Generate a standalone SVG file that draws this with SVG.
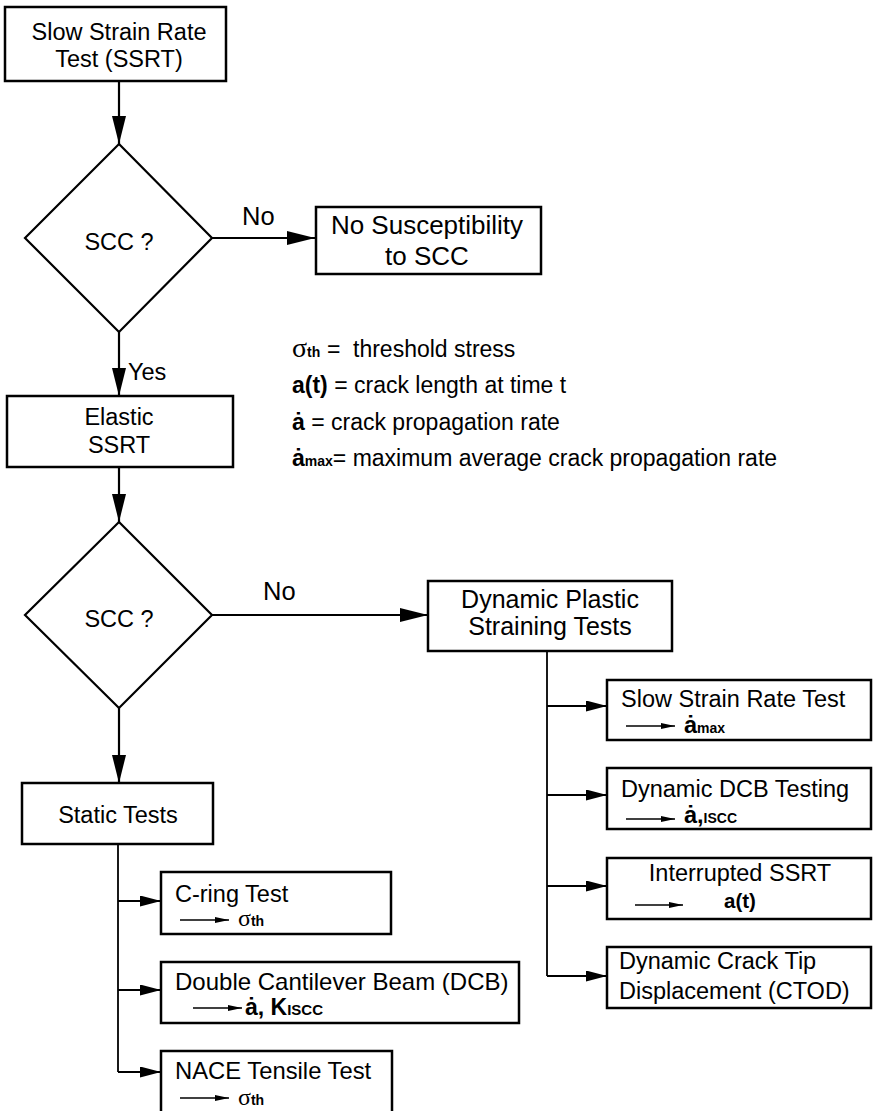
<svg xmlns="http://www.w3.org/2000/svg" width="876" height="1111" viewBox="0 0 876 1111">
<defs>
<style>
.box{fill:#fff;stroke:#000;stroke-width:2.5}
.dia{fill:#fff;stroke:#000;stroke-width:2.2}
.main{stroke:#000;stroke-width:2.2;fill:none}
.br{stroke:#000;stroke-width:1.8;fill:none}
.sm{stroke:#000;stroke-width:1.4;fill:none}
text{font-family:"Liberation Sans",Arial,sans-serif;font-size:23.5px;fill:#000}
.c{text-anchor:middle}
.lg{font-size:23px}
.big{font-size:25.5px}
.b{font-weight:bold}
.sub{font-weight:bold;font-size:14px}
.sig{font-family:"Liberation Serif","DejaVu Serif",serif;font-size:28px;font-weight:normal}
.sigs{font-family:"Liberation Serif","DejaVu Serif",serif;font-size:24px;font-weight:normal}
</style>
<marker id="mBig" markerUnits="userSpaceOnUse" viewBox="0 0 28 14" markerWidth="28" markerHeight="14" refX="28" refY="7" orient="auto"><path d="M0,0 L28,7 L0,14 z" fill="#000"/></marker>
<marker id="mMed" markerUnits="userSpaceOnUse" viewBox="0 0 21 11" markerWidth="21" markerHeight="11" refX="21" refY="5.5" orient="auto"><path d="M0,0 L21,5.5 L0,11 z" fill="#000"/></marker>
<marker id="mSm" markerUnits="userSpaceOnUse" viewBox="0 0 14 6" markerWidth="14" markerHeight="6" refX="14" refY="3" orient="auto"><path d="M0,0 L14,3 L0,6 z" fill="#000"/></marker>
</defs>
<rect width="876" height="1111" fill="#fff"/>

<g id="connectors">
<line class="main" x1="119" y1="81" x2="119" y2="144" marker-end="url(#mBig)"/>
<line class="main" x1="212" y1="238" x2="315" y2="238" marker-end="url(#mBig)"/>
<line class="main" x1="119" y1="332" x2="119" y2="396" marker-end="url(#mBig)"/>
<line class="main" x1="119" y1="467" x2="119" y2="522" marker-end="url(#mBig)"/>
<line class="main" x1="212" y1="615" x2="428" y2="615" marker-end="url(#mBig)"/>
<line class="main" x1="119" y1="708" x2="119" y2="783" marker-end="url(#mBig)"/>
<line class="br" x1="118" y1="844" x2="118" y2="1072"/>
<line class="br" x1="118" y1="901" x2="161" y2="901" marker-end="url(#mMed)"/>
<line class="br" x1="118" y1="990" x2="161" y2="990" marker-end="url(#mMed)"/>
<line class="br" x1="118" y1="1072" x2="161" y2="1072" marker-end="url(#mMed)"/>
<line class="br" x1="547" y1="651" x2="547" y2="976"/>
<line class="br" x1="547" y1="706" x2="607" y2="706" marker-end="url(#mMed)"/>
<line class="br" x1="547" y1="795" x2="607" y2="795" marker-end="url(#mMed)"/>
<line class="br" x1="547" y1="886" x2="607" y2="886" marker-end="url(#mMed)"/>
<line class="br" x1="547" y1="976" x2="607" y2="976" marker-end="url(#mMed)"/>
<text class="big" x="242" y="225">No</text>
<text x="128" y="380">Yes</text>
<text class="big" x="263" y="600">No</text>
</g>

<g id="ssrt">
<rect class="box" x="5" y="7" width="221" height="74"/>
<text class="c" x="119" y="40">Slow Strain Rate</text>
<text class="c" x="119" y="67">Test (SSRT)</text>
</g>

<g id="scc1">
<polygon class="dia" points="119,144 212,238 119,332 25,238"/>
<text class="c" x="119" y="250">SCC ?</text>
</g>

<g id="nosus">
<rect class="box" x="316" y="207" width="225" height="67"/>
<text class="c" x="427" y="234" style="font-size:26px">No Susceptibility</text>
<text class="c" x="427" y="265" style="font-size:26px">to SCC</text>
</g>

<g id="elastic">
<rect class="box" x="7" y="396" width="226" height="71"/>
<text class="c" x="119" y="425">Elastic</text>
<text class="c" x="119" y="453">SSRT</text>
</g>

<g id="legend">
<text class="lg" x="292" y="357"><tspan class="sig">σ</tspan><tspan class="sub">th</tspan></text>
<text class="lg" x="327" y="357">=</text>
<text class="lg" x="353" y="357">threshold stress</text>
<text class="lg" x="292" y="393"><tspan class="b">a(t)</tspan> = crack length at time t</text>
<text class="lg" x="292" y="430"><tspan class="b">ȧ</tspan> = crack propagation rate</text>
<text class="lg" x="292" y="466"><tspan class="b">ȧ</tspan><tspan class="sub">max</tspan>= maximum average crack propagation rate</text>
</g>

<g id="scc2">
<polygon class="dia" points="119,522 212,615 119,708 25,615"/>
<text class="c" x="119" y="627">SCC ?</text>
</g>

<g id="dynplastic">
<rect class="box" x="428" y="581" width="244" height="70"/>
<text class="c" x="550" y="608" style="font-size:25px">Dynamic Plastic</text>
<text class="c" x="550" y="635" style="font-size:25px">Straining Tests</text>
</g>

<g id="static">
<rect class="box" x="22" y="783" width="191" height="61"/>
<text class="c" x="118" y="823">Static Tests</text>
</g>

<g id="rssrt">
<rect class="box" x="607" y="680" width="264" height="60"/>
<text x="621" y="707">Slow Strain Rate Test</text>
<line class="sm" x1="626" y1="726" x2="675" y2="726" marker-end="url(#mSm)"/>
<text x="684" y="733"><tspan class="b">ȧ</tspan><tspan class="sub">max</tspan></text>
</g>

<g id="dyndcb">
<rect class="box" x="607" y="768" width="264" height="61"/>
<text x="621" y="797">Dynamic DCB Testing</text>
<line class="sm" x1="626" y1="819" x2="675" y2="819" marker-end="url(#mSm)"/>
<text x="684" y="823"><tspan class="b">ȧ,</tspan><tspan class="sub">ISCC</tspan></text>
</g>

<g id="interrupted">
<rect class="box" x="607" y="858" width="264" height="61"/>
<text class="c" x="740" y="881">Interrupted SSRT</text>
<line class="sm" x1="635" y1="905" x2="683" y2="905" marker-end="url(#mSm)"/>
<text class="b" x="724" y="908" style="font-size:20.5px">a(t)</text>
</g>

<g id="ctod">
<rect class="box" x="607" y="947" width="264" height="61"/>
<text x="619" y="969">Dynamic Crack Tip</text>
<text x="619" y="999">Displacement (CTOD)</text>
</g>

<g id="cring">
<rect class="box" x="161" y="872" width="230" height="62"/>
<text x="175" y="902">C-ring Test</text>
<line class="sm" x1="180" y1="920" x2="229" y2="920" marker-end="url(#mSm)"/>
<text x="238" y="926"><tspan class="sigs">σ</tspan><tspan class="sub">th</tspan></text>
</g>

<g id="dcb">
<rect class="box" x="161" y="962" width="358" height="61"/>
<text x="175" y="990" style="font-size:24px">Double Cantilever Beam (DCB)</text>
<line class="sm" x1="193" y1="1008" x2="242" y2="1008" marker-end="url(#mSm)"/>
<text x="245" y="1015" style="font-size:23px"><tspan class="b">ȧ, K</tspan><tspan class="sub" style="font-size:15px">ISCC</tspan></text>
</g>

<g id="nace">
<rect class="box" x="161" y="1051" width="231" height="80"/>
<text x="175" y="1079" style="font-size:23.8px">NACE Tensile Test</text>
<line class="sm" x1="180" y1="1098" x2="229" y2="1098" marker-end="url(#mSm)"/>
<text x="238" y="1105"><tspan class="sigs">σ</tspan><tspan class="sub">th</tspan></text>
</g>
</svg>
